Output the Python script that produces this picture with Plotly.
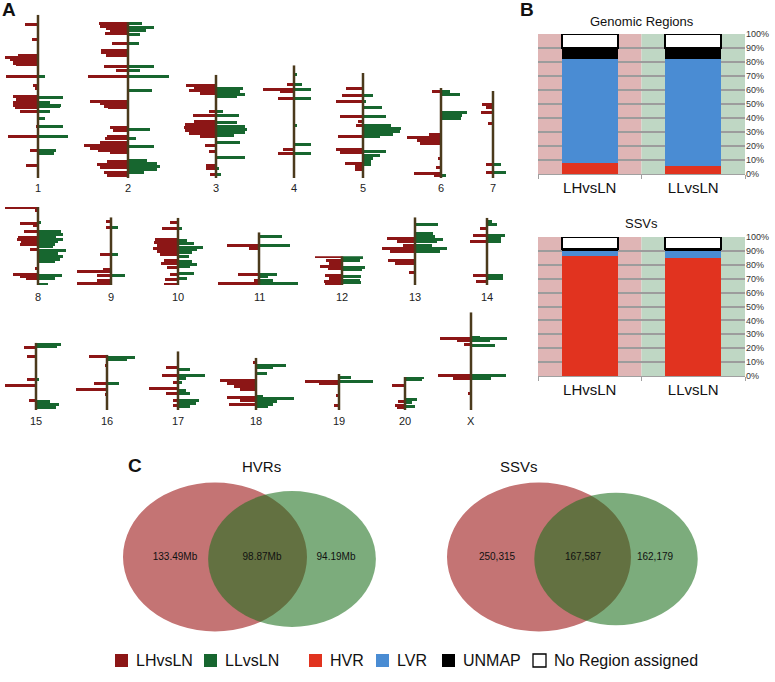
import math
import plotly.graph_objects as go

W, H = 775, 682

# ---------------- panel A: HVR distribution along rat chromosomes ----------------
CHROMS = ["1", "2", "3", "4", "5", "6", "7", "8", "9", "10", "11", "12", "13", "14",
          "15", "16", "17", "18", "19", "20", "X"]
CHROM_LEN = [272, 260, 172, 188, 175, 150, 145, 130, 113, 112, 88, 48, 113, 112,
             112, 92, 98, 87, 60, 55, 163]

# (position in Mb from chromosome start, bar length)
LH_BARS = {
    "1": [(16, 13), (41, 6), (68, 20), (71, 33), (74, 28), (77, 25), (80, 25), (83, 22), (102, 32), (118, 5),
          (122, 3), (136, 25), (140, 22), (146, 25), (150, 25), (154, 23), (160, 18), (186, 2), (202, 30),
          (226, 8), (250, 12)],
    "2": [(3, 29), (7, 28), (11, 22), (15, 18), (19, 23), (35, 16), (47, 27), (51, 27), (55, 22), (74, 24),
          (80, 12), (90, 40), (132, 38), (136, 28), (140, 24), (143, 20), (176, 18), (180, 15), (190, 21),
          (194, 23), (200, 28), (205, 44), (210, 38), (214, 30), (218, 18), (232, 21), (238, 31), (243, 28),
          (250, 24), (256, 21)],
    "3": [(17, 30), (21, 22), (26, 27), (31, 16), (60, 7), (67, 23), (77, 22), (82, 31), (87, 32), (92, 31),
          (97, 27), (102, 16), (117, 11), (128, 7), (150, 10), (155, 10), (165, 6)],
    "4": [(32, 7), (40, 31), (44, 14), (55, 16), (140, 11), (147, 16)],
    "5": [(25, 17), (38, 21), (47, 27), (72, 23), (81, 5), (88, 7), (106, 25), (128, 27), (133, 23), (150, 18),
          (155, 8), (160, 8)],
    "6": [(6, 9), (78, 12), (83, 34), (88, 24), (93, 21), (118, 3), (133, 5), (142, 27), (146, 7)],
    "7": [(23, 11), (27, 7), (35, 12), (54, 5), (123, 7), (135, 7)],
    "8": [(1, 33), (5, 3), (27, 18), (31, 5), (41, 14), (50, 20), (54, 21), (58, 17), (62, 18), (71, 8),
          (103, 3), (112, 25), (116, 18), (119, 12)],
    "9": [(8, 5), (18, 5), (63, 11), (87, 8), (91, 34), (97, 14), (105, 14), (110, 34)],
    "10": [(8, 8), (17, 16), (35, 23), (40, 24), (46, 21), (51, 25), (55, 21), (60, 18), (70, 14), (76, 17),
           (82, 11), (94, 8), (103, 13), (110, 14)],
    "11": [(22, 32), (27, 10), (70, 21), (80, 5), (86, 41)],
    "12": [(1, 27), (7, 16), (12, 13), (17, 22), (21, 14), (32, 17), (37, 13), (42, 18), (45, 17)],
    "13": [(35, 28), (41, 18), (47, 12), (52, 33), (57, 25), (72, 27), (77, 20), (93, 6)],
    "14": [(17, 7), (29, 14), (39, 17), (96, 14), (105, 11)],
    "15": [(8, 12), (23, 9), (60, 9), (71, 31), (95, 7)],
    "16": [(3, 18), (17, 2), (48, 13), (58, 31), (66, 2)],
    "17": [(28, 12), (41, 16), (52, 5), (63, 29), (70, 12), (83, 5), (90, 5)],
    "18": [(7, 3), (37, 36), (42, 29), (48, 22), (53, 16), (66, 29), (71, 16), (77, 27)],
    "19": [(12, 34), (15, 20), (36, 3), (52, 5)],
    "20": [(14, 13), (41, 7), (47, 10), (50, 8)],
    "X": [(44, 31), (47, 14), (54, 7), (106, 33), (110, 18), (136, 3)],
}
LL_BARS = {
    "1": [(103, 7), (137, 25), (145, 12), (150, 23), (153, 22), (161, 12), (173, 7), (185, 25), (202, 30),
          (226, 18), (230, 16)],
    "2": [(3, 14), (9, 26), (14, 18), (20, 12), (35, 11), (74, 26), (80, 12), (90, 41), (114, 24), (179, 22),
          (194, 8), (207, 26), (230, 19), (235, 29), (240, 32), (245, 29), (250, 16)],
    "3": [(23, 27), (27, 24), (32, 29), (35, 21), (60, 7), (68, 23), (79, 21), (85, 29), (90, 31), (96, 29),
          (101, 18), (113, 24), (138, 29), (155, 3), (165, 5)],
    "4": [(15, 3), (32, 8), (40, 17), (55, 17), (101, 3), (132, 17), (147, 17)],
    "5": [(38, 10), (47, 3), (58, 19), (72, 23), (88, 28), (93, 38), (98, 37), (102, 30), (106, 17), (131, 23),
          (137, 17), (142, 10), (148, 8), (153, 8)],
    "6": [(6, 9), (11, 19), (40, 26), (45, 21), (50, 20), (145, 5)],
    "7": [(123, 8), (135, 13)],
    "8": [(25, 3), (41, 23), (45, 25), (50, 18), (54, 25), (58, 20), (62, 17), (66, 15), (72, 28), (77, 20),
          (83, 25), (87, 22), (91, 17), (114, 24), (119, 17), (129, 10)],
    "9": [(18, 7), (63, 7), (97, 14)],
    "10": [(17, 4), (38, 9), (43, 16), (49, 25), (53, 19), (58, 14), (64, 11), (72, 14), (77, 19), (81, 12),
           (92, 16), (101, 9)],
    "11": [(8, 23), (23, 31), (70, 18), (74, 9), (80, 14), (86, 39)],
    "12": [(2, 21), (7, 18), (19, 23), (22, 20), (34, 19), (40, 18), (44, 19)],
    "13": [(13, 23), (28, 18), (32, 20), (37, 28), (41, 22), (47, 17), (52, 32), (57, 25)],
    "14": [(5, 5), (10, 10), (29, 18), (34, 14), (39, 14), (96, 16), (101, 16)],
    "15": [(2, 25), (6, 21), (60, 3), (97, 14), (103, 23), (108, 20)],
    "16": [(4, 28), (7, 20), (48, 12)],
    "17": [(30, 12), (41, 27), (45, 8), (53, 4), (66, 8), (70, 12), (83, 21), (88, 18), (92, 12)],
    "18": [(12, 30), (15, 17), (26, 11), (64, 7), (67, 38), (72, 21), (77, 17), (80, 12)],
    "19": [(5, 12), (13, 34)],
    "20": [(1, 19), (4, 17), (37, 12), (43, 7), (49, 10)],
    "X": [(42, 9), (44, 36), (47, 19), (55, 24), (106, 35), (110, 20)],
}

# ---------------- panel B: composition (%) ----------------
COMPARISONS = ["LHvsLN", "LLvsLN"]
SEGMENTS = ["HVR", "LVR", "UNMAP", "No Region assigned"]
GENOMIC_PCT = [[8, 6], [74, 76], [8, 8], [10, 10]]
SSV_PCT = [[86, 85], [4, 5], [1.5, 1.5], [8.5, 8.5]]

# ---------------- panel C: venn counts (LH only, shared, LL only) ----------------
HVR_VENN = [133.49, 98.87, 94.19]
SSV_VENN = [250315, 167587, 162179]

# colours
C_LH = "#8c1616"
C_LL = "#17662f"
C_AXIS = "#4b3a1c"
SEG_COLORS = ["#e1331f", "#4a8cd3", "#000000", "#ffffff"]
FONT = "Liberation Sans, Helvetica, Arial, sans-serif"

# layout of panel A (pixels)
CHROM_X = [38, 128, 216, 294, 363, 441, 493, 38, 111, 178, 259, 342, 415, 487,
           36, 107, 178, 256, 339, 405, 471]
ROW_BASE = [178, 285, 410]
ROW_LABEL = [188, 297, 421]
PX_PER_MB = 0.6
HALF_W = 46
BAR_MB = 5


def aid(n):
    return "" if n == 1 else str(n)


def note(x, y, text, size, xref="paper", xanchor="center", color="#111", family=FONT):
    return dict(x=x, y=1 - y / H, xref=xref, yref="paper", text=text, showarrow=False,
                xanchor=xanchor, yanchor="middle", font=dict(size=size, color=color, family=family))


fig = go.Figure()
layout = {}
annotations = []
shapes = []

for i, name in enumerate(CHROMS):
    n = i + 1
    row = i // 7
    cx = CHROM_X[i]
    base = ROW_BASE[row]
    length = CHROM_LEN[i]
    top = base - length * PX_PER_MB
    left, right = max(0, cx - HALF_W), min(W, cx + HALF_W)
    layout["xaxis" + aid(n)] = dict(domain=[left / W, right / W], range=[left - cx, right - cx],
                                    visible=False, anchor="y" + aid(n))
    layout["yaxis" + aid(n)] = dict(domain=[1 - base / H, 1 - top / H], range=[length, 0],
                                    visible=False, anchor="x" + aid(n))
    lh = LH_BARS[name]
    ll = LL_BARS[name]
    fig.add_trace(go.Bar(y=[p for p, v in lh], x=[-v for p, v in lh], orientation="h", width=BAR_MB,
                         marker=dict(color=C_LH, line=dict(width=0)), name="LHvsLN", showlegend=False,
                         xaxis="x" + aid(n), yaxis="y" + aid(n)))
    fig.add_trace(go.Bar(y=[p for p, v in ll], x=[v for p, v in ll], orientation="h", width=BAR_MB,
                         marker=dict(color=C_LL, line=dict(width=0)), name="LLvsLN", showlegend=False,
                         xaxis="x" + aid(n), yaxis="y" + aid(n)))
    fig.add_trace(go.Scatter(x=[0, 0], y=[0, length], mode="lines", line=dict(color=C_AXIS, width=2.5),
                             showlegend=False, hoverinfo="skip", xaxis="x" + aid(n), yaxis="y" + aid(n)))
    annotations.append(note(0, ROW_LABEL[row], name, 11, xref="x" + aid(n), color="#222"))

# panel B
B_LEFT, B_RIGHT = 538, 745
B_PANELS = [(22, "Genomic Regions", GENOMIC_PCT, 34, 174, 22),
            (23, "SSVs", SSV_PCT, 237, 376, 224)]
for n, title, pct, ytop, ybot, ytitle in B_PANELS:
    for s, seg in enumerate(SEGMENTS):
        white = SEG_COLORS[s] == "#ffffff"
        fig.add_trace(go.Bar(x=COMPARISONS, y=pct[s], width=0.54, name=seg, showlegend=False,
                             marker=dict(color=SEG_COLORS[s],
                                         line=dict(color="black", width=2 if white else 0)),
                             xaxis=f"x{n}", yaxis=f"y{n}"))
    layout[f"xaxis{n}"] = dict(domain=[B_LEFT / W, B_RIGHT / W], type="category", range=[-0.5, 1.5],
                               anchor=f"y{n}", showline=True, linecolor="#a0a0a0", linewidth=1,
                               ticks="outside", tickson="boundaries", ticklen=4, tickcolor="#a0a0a0",
                               showgrid=False, tickfont=dict(size=15, color="#111", family=FONT))
    layout[f"yaxis{n}"] = dict(domain=[1 - ybot / H, 1 - ytop / H], range=[0, 100], dtick=10,
                               ticksuffix="%", side="right", anchor=f"x{n}", showgrid=True,
                               gridcolor="#9c9c9c", gridwidth=1.5, zeroline=False, showline=False,
                               ticks="", tickfont=dict(size=9, color="#333", family=FONT))
    shapes.append(dict(type="rect", xref=f"x{n} domain", yref=f"y{n} domain", x0=0, x1=0.5, y0=0, y1=1,
                       fillcolor="#dfb5b5", line=dict(width=0), layer="below"))
    shapes.append(dict(type="rect", xref=f"x{n} domain", yref=f"y{n} domain", x0=0.5, x1=1, y0=0, y1=1,
                       fillcolor="#bfd7c4", line=dict(width=0), layer="below"))
    annotations.append(note((B_LEFT + B_RIGHT) / 2 / W, ytitle, title, 13))

# panel C: venn diagrams on a full-figure pixel axis
layout["xaxis24"] = dict(domain=[0, 1], range=[0, W], visible=False, anchor="y24")
layout["yaxis24"] = dict(domain=[0, 1], range=[H, 0], visible=False, anchor="x24")
VENNS = [("HVRs", HVR_VENN, 215, 261, lambda v: f"{v:.2f}Mb", [175, 262, 336]),
         ("SSVs", SSV_VENN, 539, 519, lambda v: f"{v:,}", [497, 583, 655])]
R_MAX, SQUASH, VY = 92, 0.81, 557
for title, counts, red_cx, title_x, fmt, text_x in VENNS:
    tot_lh = counts[0] + counts[1]
    tot_ll = counts[1] + counts[2]
    r_lh = R_MAX
    r_ll = R_MAX * math.sqrt(tot_ll / tot_lh)
    green_cx = red_cx + 77
    shapes.append(dict(type="circle", xref="x24", yref="y24", x0=red_cx - r_lh, x1=red_cx + r_lh,
                       y0=VY - r_lh * SQUASH, y1=VY + r_lh * SQUASH, fillcolor="#c47474",
                       line=dict(width=0), layer="below"))
    shapes.append(dict(type="circle", xref="x24", yref="y24", x0=green_cx - r_ll, x1=green_cx + r_ll,
                       y0=VY + 2 - r_ll * SQUASH, y1=VY + 2 + r_ll * SQUASH, fillcolor="rgb(30,112,30)",
                       opacity=0.58, line=dict(width=0), layer="below"))
    fig.add_trace(go.Scatter(x=text_x, y=[VY] * 3, text=[fmt(v) for v in counts], mode="text",
                             textfont=dict(size=10, color="#111", family=FONT), showlegend=False,
                             hoverinfo="skip", xaxis="x24", yaxis="y24"))
    annotations.append(note(title_x / W, 467, title, 15))

# panel letters
for letter, lx, ly in [("A", 9, 10), ("B", 527, 10), ("C", 135, 466)]:
    annotations.append(note(lx / W, ly, f"<b>{letter}</b>", 19))

# shared legend along the bottom
LEGEND_LABELS = ["LHvsLN", "LLvsLN"] + SEGMENTS
LEGEND_COLORS = [C_LH, C_LL] + SEG_COLORS
LEG_SQ = [115, 204, 309, 376, 442, 533]
LEG_Y = 660
for lab, col, sx in zip(LEGEND_LABELS, LEGEND_COLORS, LEG_SQ):
    white = col == "#ffffff"
    shapes.append(dict(type="rect", xref="paper", yref="paper", x0=sx / W, x1=(sx + 13) / W,
                       y0=1 - (LEG_Y + 7) / H, y1=1 - (LEG_Y - 6) / H, fillcolor=col,
                       line=dict(color="black", width=1.3 if white else 0)))
    annotations.append(note((sx + 19) / W, LEG_Y, lab, 16, xanchor="left"))

fig.update_layout(
    width=W, height=H, margin=dict(l=0, r=0, t=0, b=0), autosize=False,
    template="none", barmode="relative", bargap=0,
    paper_bgcolor="white", plot_bgcolor="rgba(0,0,0,0)",
    font=dict(family=FONT, color="#111"),
    showlegend=False, annotations=annotations, shapes=shapes,
    **layout,
)
fig.write_html("out.html", config={"displayModeBar": False},
               post_script="document.body.style.margin='0';")
